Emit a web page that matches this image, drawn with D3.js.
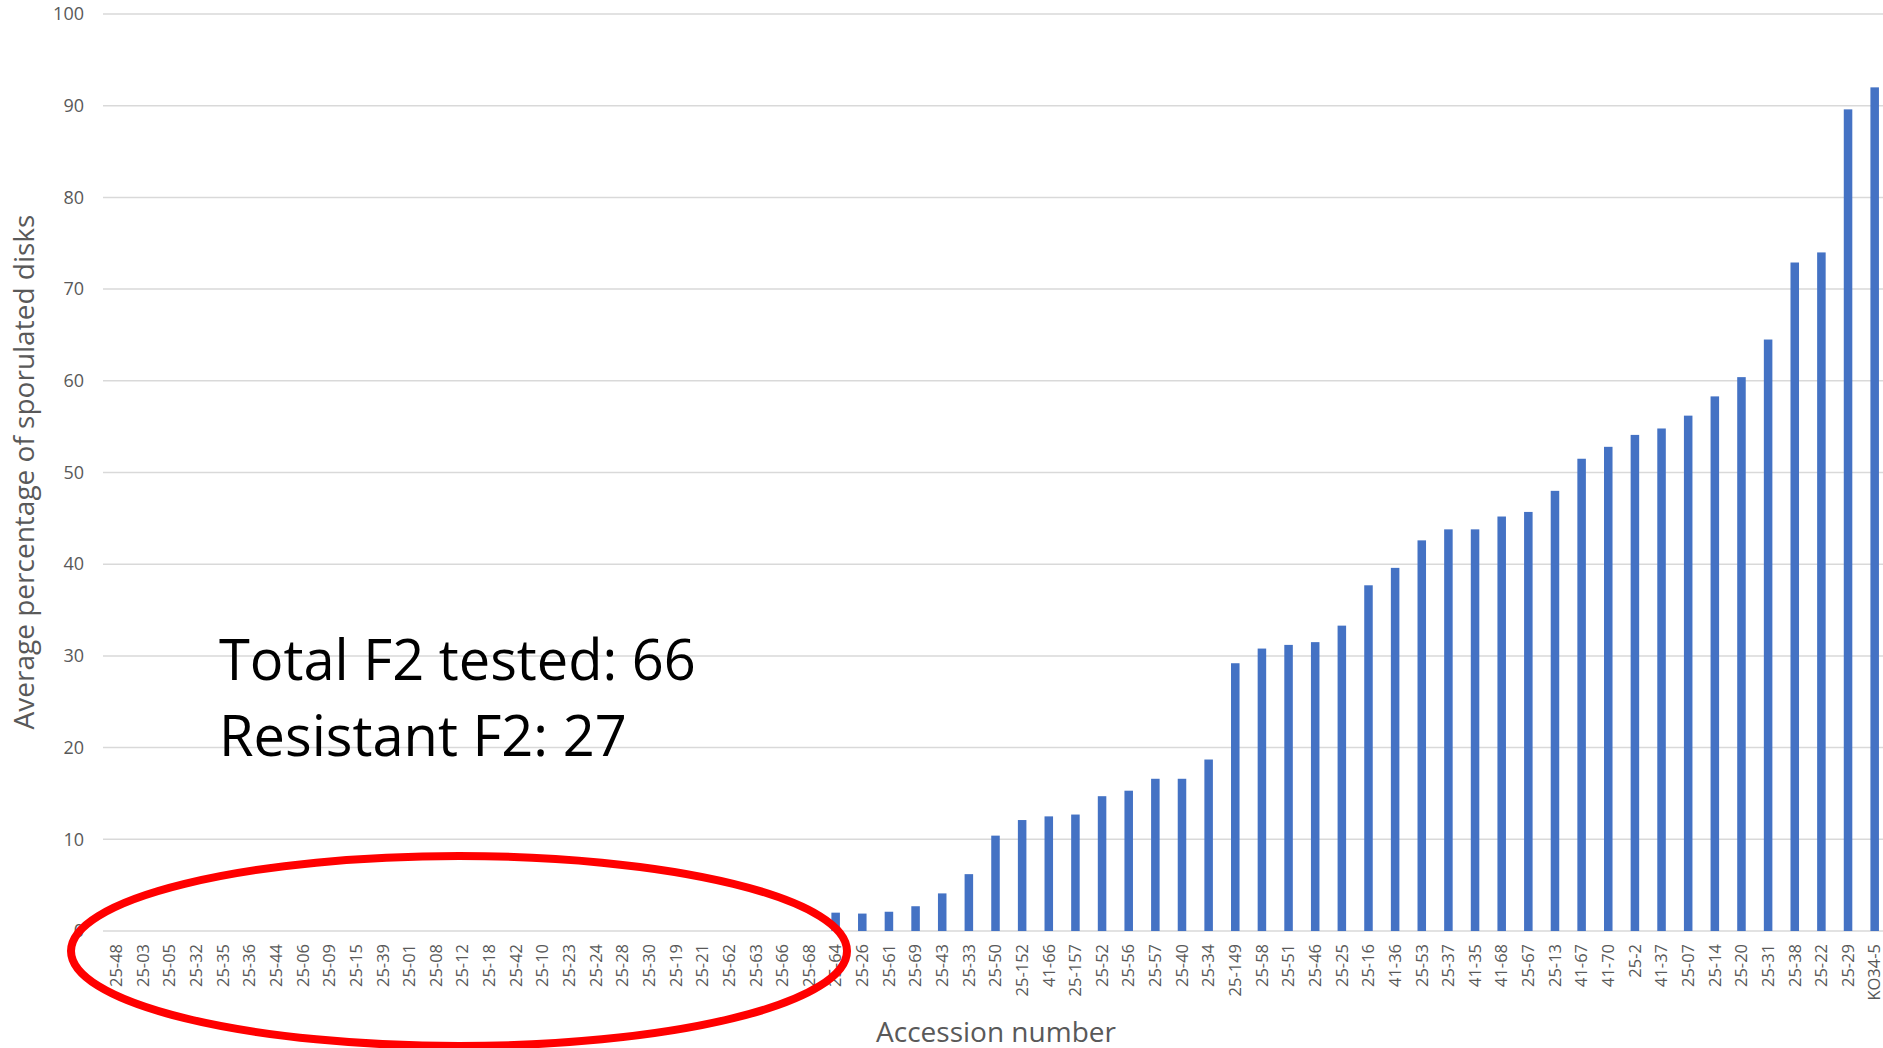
<!DOCTYPE html>
<html>
<head>
<meta charset="utf-8">
<script src="https://cdn.jsdelivr.net/npm/d3@7"></script>
<style>
  body { margin: 0; background: #fff; }
  text { font-family: "Open Sans", sans-serif; }
</style>
</head>
<body>
<div id="chart"></div>
<script>
const accessions = [
  "25-48", "25-03", "25-05", "25-32", "25-35", "25-36", "25-44", "25-06", "25-09", "25-15",
  "25-39", "25-01", "25-08", "25-12", "25-18", "25-42", "25-10", "25-23", "25-24", "25-28",
  "25-30", "25-19", "25-21", "25-62", "25-63", "25-66", "25-68",
  "25-64", "25-26", "25-61", "25-69", "25-43", "25-33", "25-50", "25-152", "41-66", "25-157",
  "25-52", "25-56", "25-57", "25-40", "25-34", "25-149", "25-58", "25-51", "25-46", "25-25",
  "25-16", "41-36", "25-53", "25-37", "41-35", "41-68", "25-67", "25-13", "41-67", "41-70",
  "25-2", "41-37", "25-07", "25-14", "25-20", "25-31", "25-38", "25-22", "25-29", "KO34-5"
];
const sporulated = [
  0, 0, 0, 0, 0, 0, 0, 0, 0, 0,
  0, 0, 0, 0, 0, 0, 0, 0, 0, 0,
  0, 0, 0, 0, 0, 0, 0,
  2.0, 1.9, 2.1, 2.7, 4.1, 6.2, 10.4, 12.1, 12.5, 12.7,
  14.7, 15.3, 16.6, 16.6, 18.7, 29.2, 30.8, 31.2, 31.5, 33.3,
  37.7, 39.6, 42.6, 43.8, 43.8, 45.2, 45.7, 48.0, 51.5, 52.8,
  54.1, 54.8, 56.2, 58.3, 60.4, 64.5, 72.9, 74.0, 89.6, 92.0
];
const yTicks = [0, 10, 20, 30, 40, 50, 60, 70, 80, 90, 100];
const noteLines = ["Total F2 tested: 66", "Resistant F2: 27"];

const width = 1883, height = 1048;

const svg = d3.select("#chart").append("svg")
  .attr("width", width)
  .attr("height", height);

const x = d3.scaleBand()
  .domain(accessions)
  .range([103, 1888])
  .paddingInner(0.68)
  .paddingOuter(0.34);

const y = d3.scaleLinear()
  .domain([0, 100])
  .range([931, 14]);

// gridlines
svg.append("g")
  .selectAll("line")
  .data(yTicks)
  .join("line")
  .attr("x1", 103)
  .attr("x2", width)
  .attr("y1", d => y(d))
  .attr("y2", d => y(d))
  .attr("stroke", "#d9d9d9")
  .attr("stroke-width", 1.5);

// y axis labels
const yAxis = svg.append("g")
  .attr("transform", "translate(84,0)")
  .call(d3.axisLeft(y).tickValues(yTicks).tickSize(0).tickPadding(0));
yAxis.select(".domain").remove();
yAxis.selectAll("text")
  .attr("fill", "#595959")
  .style("font-size", "18px");

// bars
svg.append("g")
  .selectAll("rect")
  .data(accessions)
  .join("rect")
  .attr("x", (d, i) => x(d))
  .attr("width", x.bandwidth())
  .attr("y", (d, i) => y(sporulated[i]))
  .attr("height", (d, i) => y(0) - y(sporulated[i]))
  .attr("fill", "#4472c4");

// x axis labels
const xAxis = svg.append("g")
  .attr("transform", `translate(0,${y(0)})`)
  .call(d3.axisBottom(x).tickSize(0).tickPadding(0));
xAxis.select(".domain").remove();
xAxis.selectAll("text")
  .attr("transform", "rotate(-90)")
  .attr("x", -13)
  .attr("y", 0)
  .attr("dy", "0.35em")
  .attr("text-anchor", "end")
  .attr("fill", "#595959")
  .style("font-size", "16.5px");

// axis titles
svg.append("text")
  .attr("transform", "translate(34,472) rotate(-90)")
  .attr("text-anchor", "middle")
  .attr("fill", "#595959")
  .style("font-size", "28px")
  .text("Average percentage of sporulated disks");

svg.append("text")
  .attr("x", 996)
  .attr("y", 1042)
  .attr("text-anchor", "middle")
  .attr("fill", "#595959")
  .style("font-size", "28px")
  .text("Accession number");

// annotation
svg.append("g")
  .selectAll("text")
  .data(noteLines)
  .join("text")
  .attr("x", 219)
  .attr("y", (d, i) => 680 + i * 76)
  .attr("fill", "#000")
  .style("font-size", "56px")
  .text(d => d);

// red ellipse
svg.append("ellipse")
  .attr("cx", 459)
  .attr("cy", 951)
  .attr("rx", 388)
  .attr("ry", 95)
  .attr("fill", "none")
  .attr("stroke", "#ff0000")
  .attr("stroke-width", 8);
</script>
</body>
</html>
